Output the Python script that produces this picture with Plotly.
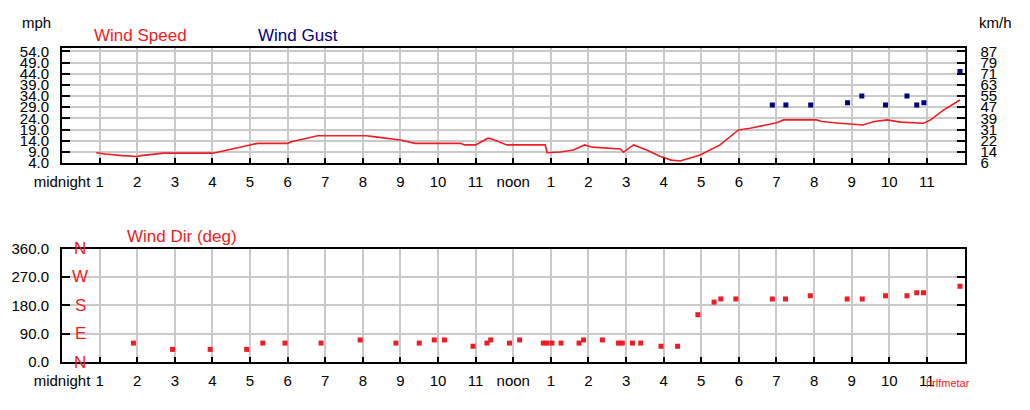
import plotly.graph_objects as go

# ---------------- data ----------------
hour_ticks = list(range(24))
hour_labels = ["midnight", "1", "2", "3", "4", "5", "6", "7", "8", "9", "10", "11",
               "noon", "1", "2", "3", "4", "5", "6", "7", "8", "9", "10", "11"]

speed_hours = [0.91, 1.15, 1.6, 2.0, 2.1, 2.7, 4.0, 4.2, 5.0, 5.2, 6.0, 6.1, 6.8, 8.1,
               8.28, 8.64, 9.0, 9.39, 10.6, 10.7, 11.0, 11.33, 11.45, 11.83, 12.85, 12.9,
               13.25, 13.6, 13.9, 14.1, 14.85, 14.93, 15.2, 15.55, 15.9, 16.2, 16.44,
               16.97, 17.5, 17.99, 18.3, 19.01, 19.19, 20.07, 20.2, 20.69, 21.14, 21.3,
               21.6, 21.94, 22.3, 22.91, 23.1, 23.44, 23.88]
speed_mph = [8.6, 8.0, 7.3, 6.9, 7.3, 8.4, 8.4, 9.0, 12.1, 12.8, 12.8, 13.5, 16.2, 16.2,
             15.8, 15.1, 14.3, 12.8, 12.8, 12.1, 12.1, 15.1, 14.6, 12.1, 12.1, 8.6,
             8.9, 9.8, 12.1, 11.1, 10.3, 8.8, 12.1, 9.8, 7.0, 5.3, 4.9,
             7.6, 12.1, 18.8, 19.6, 22.0, 23.3, 23.3, 22.6, 21.8, 21.0, 21.0,
             22.6, 23.3, 22.3, 21.8, 23.3, 27.7, 32.2]

gust_hours = [18.89, 19.25, 19.91, 20.89, 21.27, 21.9, 22.47, 22.73, 22.92, 23.88]
gust_mph = [30, 30, 30, 31, 34, 30, 34, 30, 31, 45]

dir_hours = [1.9, 2.94, 3.94, 4.91, 5.34, 5.93, 6.89, 7.93, 8.88, 9.5, 9.9, 10.17, 10.93,
             11.3, 11.4, 11.9, 12.17, 12.8, 12.9, 13.03, 13.27, 13.75, 13.87, 14.37, 14.8,
             14.9, 15.17, 15.39, 15.93, 16.37, 16.91, 17.34, 17.52, 17.92, 18.89, 19.24,
             19.9, 20.88, 21.28, 21.9, 22.47, 22.73, 22.91, 23.88]
dir_deg = [60, 40, 40, 40, 60, 60, 60, 70, 60, 60, 70, 70, 50,
           60, 70, 60, 70, 60, 60, 60, 60, 60, 70, 70, 60,
           60, 60, 60, 50, 50, 150, 190, 200, 200, 200, 200,
           210, 200, 200, 210, 210, 220, 220, 240]

mph_ticks = [4, 9, 14, 19, 24, 29, 34, 39, 44, 49, 54]
mph_labels = ["4.0", "9.0", "14.0", "19.0", "24.0", "29.0", "34.0", "39.0", "44.0", "49.0", "54.0"]
kmh_labels = ["6", "14", "22", "31", "39", "47", "55", "63", "71", "79", "87"]
MPH_TO_KMH = 1.609344

deg_ticks = [0, 90, 180, 270, 360]
deg_labels = ["0.0", "90.0", "180.0", "270.0", "360.0"]
compass_labels = ["N", "E", "S", "W", "N"]

# ---------------- style ----------------
RED = "#ee1c24"
NAVY = "#000080"
GRID = "#c9c9c9"
FONT = "Liberation Sans, Arial, sans-serif"
W, H = 1030, 410
OFF = 8  # page body margin


def px_x(p):
    return (p - OFF) / W


def px_y(p):
    return 1 - (p - OFF) / H


XDOM = [px_x(62), px_x(964.5)]

fig = go.Figure()
fig.add_trace(go.Scatter(x=speed_hours, y=speed_mph, mode="lines",
                         line=dict(color=RED, width=1.6), xaxis="x", yaxis="y",
                         hoverinfo="skip", showlegend=False))
fig.add_trace(go.Scatter(x=gust_hours, y=gust_mph, mode="markers",
                         marker=dict(symbol="square", size=5, color=NAVY),
                         xaxis="x", yaxis="y", showlegend=False))
fig.add_trace(go.Scatter(x=[None], y=[None], mode="lines", xaxis="x", yaxis="y3",
                         showlegend=False, hoverinfo="skip"))
fig.add_trace(go.Scatter(x=dir_hours, y=dir_deg, mode="markers",
                         marker=dict(symbol="square", size=5, color=RED),
                         xaxis="x2", yaxis="y2", showlegend=False))

xcommon = dict(range=[0, 24], tickvals=hour_ticks, ticktext=hour_labels,
               ticks="inside", ticklen=5, tickwidth=2, tickcolor="black",
               showline=True, linecolor="black", linewidth=2, mirror=True,
               showgrid=True, gridcolor=GRID, gridwidth=1.5, zeroline=False,
               tickfont=dict(family=FONT, size=15, color="black"),
               ticklabelstandoff=4, domain=XDOM, fixedrange=True, automargin=False)
ycommon = dict(ticks="inside", ticklen=8, tickwidth=2, tickcolor="black",
               showline=True, linecolor="black", linewidth=2, mirror="ticks",
               showgrid=True, gridcolor=GRID, gridwidth=1.5, zeroline=False,
               tickfont=dict(family=FONT, size=15, color="black"),
               ticklabelstandoff=8, fixedrange=True, automargin=False)

fig.update_layout(
    width=W, height=H,
    margin=dict(l=0, r=0, t=0, b=0, autoexpand=False),
    paper_bgcolor="white", plot_bgcolor="white",
    font=dict(family=FONT),
    xaxis=dict(anchor="y", **xcommon),
    xaxis2=dict(anchor="y2", **xcommon),
    yaxis=dict(anchor="x", domain=[px_y(163), px_y(48)], range=[4, 55.5],
               tickvals=mph_ticks, ticktext=mph_labels, **ycommon),
    yaxis3=dict(anchor="x", overlaying="y", side="right",
                range=[4 * MPH_TO_KMH, 55.5 * MPH_TO_KMH],
                tickvals=[m * MPH_TO_KMH for m in mph_ticks], ticktext=kmh_labels,
                ticks="", showgrid=False, showline=False, zeroline=False,
                tickfont=dict(family=FONT, size=15, color="black"),
                ticklabelstandoff=15, fixedrange=True, automargin=False),
    yaxis2=dict(anchor="x2", domain=[px_y(362), px_y(248.5)], range=[0, 360],
                tickvals=deg_ticks, ticktext=deg_labels, **ycommon),
)

annotations = [
    dict(text="mph", x=px_x(36), y=px_y(22), font=dict(size=15, color="black")),
    dict(text="km/h", x=px_x(995), y=px_y(22), font=dict(size=15, color="black")),
    dict(text="Wind Speed", x=px_x(140), y=px_y(35), font=dict(size=17, color=RED)),
    dict(text="Wind Gust", x=px_x(298), y=px_y(35), font=dict(size=17, color=NAVY)),
    dict(text="Wind Dir (deg)", x=px_x(182), y=px_y(236), font=dict(size=17, color=RED)),
    dict(text="hrlfmetar", x=px_x(948), y=px_y(383), font=dict(size=11, color=RED)),
]
for a in annotations:
    a.update(xref="paper", yref="paper", showarrow=False, xanchor="center",
             yanchor="middle")
    a["font"]["family"] = FONT
for lab, val in zip(compass_labels, deg_ticks):
    annotations.append(dict(text=lab, x=px_x(80), y=val, xref="paper", yref="y2",
                            showarrow=False, xanchor="center", yanchor="middle",
                            font=dict(family=FONT, size=17, color=RED)))
fig.update_layout(annotations=annotations)

fig.write_html("out.html")
